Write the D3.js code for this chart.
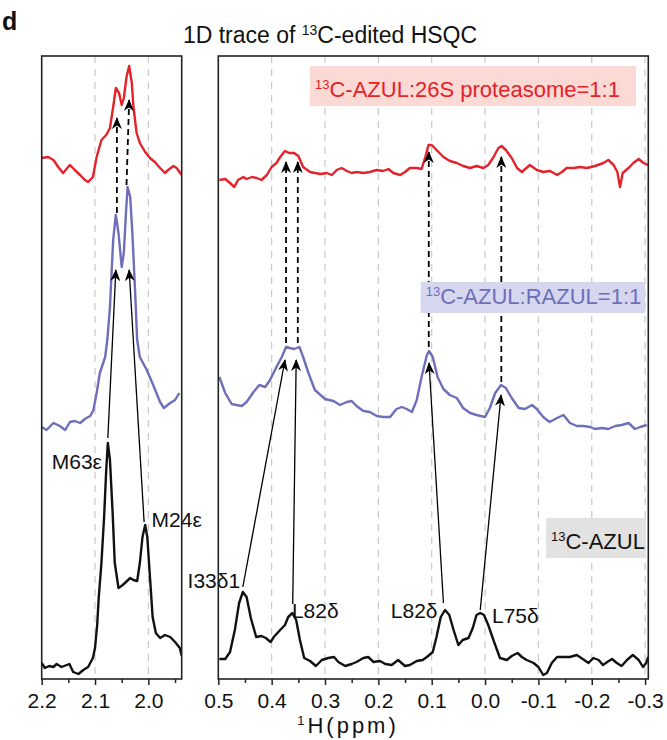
<!DOCTYPE html>
<html>
<head>
<meta charset="utf-8">
<script src="https://cdn.jsdelivr.net/npm/d3@7"></script>
<style>
  body { margin: 0; background: #fff; }
  text { font-family: "Liberation Sans", Arial, Helvetica, sans-serif; }
</style>
</head>
<body>
<div id="chart"></div>
<script>
// spectra as [ppm, intensity (a.u.)], traces are stacked on one intensity axis
const redLeft = [[2.2,521],[2.188,522],[2.178,519],[2.169,512],[2.160,506],[2.147,514],[2.138,509],[2.128,504],[2.119,499],[2.113,497],[2.104,502],[2.097,522],[2.088,539],[2.079,544],[2.072,551],[2.066,572],[2.061,591],[2.055,586],[2.050,574],[2.046,581],[2.041,602],[2.036,613],[2.031,596],[2.028,572],[2.022,546],[2.016,536],[2.006,527],[1.997,521],[1.988,517],[1.978,511],[1.969,506],[1.963,509],[1.953,513],[1.947,511],[1.9375,504]]

const redRight = [[0.498,499],[0.487,500],[0.478,496],[0.470,492],[0.463,499],[0.453,502],[0.447,500],[0.437,502],[0.428,501],[0.419,499],[0.409,504],[0.400,512],[0.391,516],[0.384,522],[0.375,528],[0.367,526],[0.358,526],[0.350,523],[0.341,512],[0.328,507],[0.319,506],[0.308,505],[0.297,506],[0.287,504],[0.278,509],[0.269,511],[0.259,508],[0.250,506],[0.241,507],[0.228,506],[0.216,507],[0.203,509],[0.191,508],[0.181,510],[0.172,506],[0.159,504],[0.150,507],[0.141,511],[0.128,511],[0.119,510],[0.112,522],[0.106,534],[0.100,534],[0.091,529],[0.078,522],[0.066,518],[0.053,516],[0.041,513],[0.028,511],[0.016,513],[0.003,511],[-0.006,514],[-0.016,522],[-0.025,531],[-0.031,533],[-0.039,529],[-0.050,521],[-0.060,511],[-0.069,507],[-0.084,514],[-0.097,509],[-0.109,507],[-0.122,508],[-0.135,504],[-0.144,507],[-0.153,511],[-0.166,511],[-0.178,512],[-0.191,511],[-0.206,513],[-0.222,516],[-0.231,519],[-0.241,514],[-0.248,507],[-0.253,492],[-0.258,506],[-0.269,511],[-0.278,516],[-0.288,520],[-0.297,516],[-0.306,514]]

const blueLeft = [[2.2,252],[2.191,249],[2.178,256],[2.166,253],[2.156,249],[2.147,257],[2.138,258],[2.128,256],[2.119,260],[2.109,263],[2.103,269],[2.097,286],[2.091,306],[2.081,322],[2.077,339],[2.072,372],[2.069,406],[2.066,439],[2.061,464],[2.056,446],[2.050,412],[2.046,426],[2.042,466],[2.039,492],[2.034,482],[2.030,446],[2.025,389],[2.021,339],[2.016,322],[2.003,309],[1.991,294],[1.978,277],[1.971,271],[1.959,276],[1.950,279],[1.942,286]]

const blueRight = [[0.498,302],[0.487,286],[0.475,275],[0.466,274],[0.456,273],[0.447,277],[0.434,287],[0.423,294],[0.412,292],[0.403,299],[0.391,312],[0.381,322],[0.373,332],[0.366,331],[0.358,330],[0.348,332],[0.341,322],[0.331,306],[0.319,289],[0.300,280],[0.284,278],[0.272,274],[0.259,277],[0.250,278],[0.241,273],[0.228,268],[0.216,267],[0.203,263],[0.191,262],[0.178,262],[0.166,270],[0.156,272],[0.147,270],[0.137,267],[0.128,279],[0.119,302],[0.109,324],[0.105,328],[0.098,322],[0.089,302],[0.078,290],[0.066,284],[0.053,281],[0.041,271],[0.028,266],[0.016,264],[0.0,262],[-0.009,271],[-0.019,286],[-0.030,294],[-0.039,291],[-0.050,281],[-0.063,271],[-0.075,270],[-0.088,274],[-0.097,270],[-0.109,262],[-0.121,257],[-0.135,261],[-0.147,264],[-0.159,256],[-0.172,253],[-0.184,253],[-0.197,252],[-0.206,250],[-0.219,251],[-0.231,250],[-0.244,253],[-0.256,254],[-0.269,256],[-0.281,250],[-0.291,252],[-0.303,254]]

const blackLeft = [[2.2,16],[2.194,11],[2.186,13],[2.178,12],[2.172,15],[2.163,12],[2.148,15],[2.141,7],[2.131,5],[2.122,9],[2.113,12],[2.104,21],[2.100,31],[2.096,54],[2.093,82],[2.088,116],[2.083,162],[2.079,209],[2.076,236],[2.072,219],[2.067,166],[2.063,116],[2.056,91],[2.048,94],[2.042,97],[2.034,101],[2.028,99],[2.021,98],[2.016,116],[2.011,142],[2.006,154],[2.002,142],[1.997,102],[1.992,62],[1.986,46],[1.978,41],[1.969,44],[1.959,42],[1.950,37],[1.941,31],[1.9375,23]]

const blackRight = [[0.498,20],[0.487,20],[0.478,27],[0.469,49],[0.461,76],[0.454,87],[0.447,82],[0.439,61],[0.429,42],[0.419,43],[0.411,41],[0.402,37],[0.396,42],[0.384,49],[0.375,54],[0.369,62],[0.361,66],[0.354,59],[0.347,39],[0.339,21],[0.328,18],[0.317,13],[0.306,19],[0.294,21],[0.283,22],[0.275,17],[0.262,13],[0.250,15],[0.241,17],[0.228,21],[0.219,22],[0.209,17],[0.197,18],[0.187,15],[0.175,14],[0.163,19],[0.150,13],[0.141,14],[0.128,18],[0.117,19],[0.109,22],[0.098,27],[0.091,42],[0.083,62],[0.075,69],[0.067,64],[0.059,49],[0.050,34],[0.042,39],[0.031,41],[0.023,51],[0.016,64],[0.009,66],[0.002,64],[-0.006,54],[-0.017,37],[-0.028,21],[-0.041,19],[-0.050,23],[-0.061,26],[-0.069,22],[-0.078,19],[-0.091,16],[-0.100,12],[-0.109,4],[-0.116,6],[-0.125,16],[-0.135,22],[-0.147,22],[-0.159,22],[-0.172,24],[-0.183,20],[-0.194,16],[-0.203,21],[-0.213,19],[-0.221,14],[-0.229,17],[-0.238,20],[-0.247,16],[-0.256,13],[-0.266,19],[-0.277,24],[-0.288,19],[-0.296,12],[-0.302,16],[-0.306,22]]

// arrows: [ppm from, int from, ppm to, int to]
const solidArrowsLeft = [[2.076,241,2.061,409],[2.008,157,2.036,409]]
const dashArrowsLeft = [[2.059,466,2.059,561],[2.041,494,2.036,579]]
const solidArrowsRight = [[0.454,92,0.375,319],[0.3605,75,0.354,319],[0.078,76,0.105,316],[0.009,69,-0.030,284]]
const dashArrowsRight = [[0.373,336,0.373,517],[0.351,336,0.351,517],[0.1055,332,0.1055,527],[-0.0305,297,-0.0305,522]]

// peak labels: [text, ppm, int, anchor]
const labelsLeft = [["M63ε",2.087,210,"end"],["M24ε",1.994,152,"start"]]
const labelsRight = [["I33δ1",0.459,91,"end"],["L82δ",0.362,61,"start"],["L82δ",0.089,61,"end"],["L75δ",-0.013,56,"start"]]

const ticksLeft = [2.2, 2.1, 2.0]
const minorLeft = [2.15, 2.05, 1.95]
const ticksRight = [0.5, 0.4, 0.3, 0.2, 0.1, 0.0, -0.1, -0.2, -0.3]
const minorRight = [0.45, 0.35, 0.25, 0.15, 0.05, -0.05, -0.15, -0.25]

const RED = "#e3222a", BLUE = "#6e6fbb", BLACK = "#111"

const svg = d3.select("#chart").append("svg").attr("width", 667).attr("height", 740)

const yTop = 56, yBot = 679
const y = d3.scaleLinear().domain([0, 623]).range([yBot, yTop])
const xL = d3.scaleLinear().domain([2.2, 1.9375]).range([41.7, 181.7])
const xR = d3.scaleLinear().domain([0.5, -0.306]).range([218.3, 648.3])

const defs = svg.append("defs")
defs.append("marker").attr("id", "head")
  .attr("viewBox", "0 0 12 10").attr("refX", 11).attr("refY", 5)
  .attr("markerWidth", 12).attr("markerHeight", 10)
  .attr("markerUnits", "userSpaceOnUse").attr("orient", "auto")
  .append("path").attr("d", "M0,0 L12,5 L0,10 L3.5,5 Z").attr("fill", "#000")

function panel(id, x, traces, ticks, minor, solid, dashed, labels) {
  const [x0, x1] = x.range()
  defs.append("clipPath").attr("id", id).append("rect")
    .attr("x", x0).attr("y", yTop).attr("width", x1 - x0).attr("height", yBot - yTop)
  const g = svg.append("g")

  // grid
  g.selectAll(".grid").data(ticks.filter(t => x(t) > x0 + 2))
    .enter().append("line")
    .attr("x1", d => x(d)).attr("x2", d => x(d))
    .attr("y1", yTop).attr("y2", yBot)
    .attr("stroke", "#c9c9c9").attr("stroke-width", 1.2).attr("stroke-dasharray", "7,6")

  const line = d3.line().x(d => x(d[0])).y(d => y(d[1]))
  const plot = g.append("g").attr("clip-path", `url(#${id})`)
  traces.forEach(t => {
    plot.append("path").datum(t.data).attr("d", line)
      .attr("fill", "none").attr("stroke", t.color).attr("stroke-width", 2.4)
      .attr("stroke-linejoin", "round")
  })

  g.selectAll(".sa").data(solid).enter().append("line")
    .attr("x1", d => x(d[0])).attr("y1", d => y(d[1]))
    .attr("x2", d => x(d[2])).attr("y2", d => y(d[3]))
    .attr("stroke", "#000").attr("stroke-width", 1.3).attr("marker-end", "url(#head)")
  g.selectAll(".da").data(dashed).enter().append("line")
    .attr("x1", d => x(d[0])).attr("y1", d => y(d[1]))
    .attr("x2", d => x(d[2])).attr("y2", d => y(d[3]))
    .attr("stroke", "#000").attr("stroke-width", 1.8).attr("stroke-dasharray", "6,4")
    .attr("marker-end", "url(#head)")

  g.selectAll(".lab").data(labels).enter().append("text")
    .attr("x", d => x(d[1])).attr("y", d => y(d[2]))
    .attr("text-anchor", d => d[3])
    .attr("font-size", 21).attr("fill", "#111")
    .text(d => d[0])

  // frame
  g.append("rect").attr("x", x0).attr("y", yTop).attr("width", x1 - x0).attr("height", yBot - yTop)
    .attr("fill", "none").attr("stroke", "#222").attr("stroke-width", 1.6)

  const ax = g.append("g").attr("transform", `translate(0,${yBot})`)
    .call(d3.axisBottom(x).tickValues(ticks).tickSize(6).tickPadding(8).tickFormat(d => d.toFixed(1)))
  ax.select(".domain").remove()
  ax.selectAll("line").attr("stroke", "#222").attr("stroke-width", 1.5)
  ax.selectAll("text").attr("font-size", 21).attr("fill", "#111")
    .style("font-family", '"Liberation Sans", Arial, sans-serif')
  const mx = g.append("g").attr("transform", `translate(0,${yBot})`)
    .call(d3.axisBottom(x).tickValues(minor).tickSize(4).tickFormat(""))
  mx.select(".domain").remove()
  mx.selectAll("line").attr("stroke", "#222").attr("stroke-width", 1.5)
}

panel("clipL", xL, [
  { data: redLeft, color: RED },
  { data: blueLeft, color: BLUE },
  { data: blackLeft, color: BLACK }
], ticksLeft, minorLeft, solidArrowsLeft, dashArrowsLeft, labelsLeft)

panel("clipR", xR, [
  { data: redRight, color: RED },
  { data: blueRight, color: BLUE },
  { data: blackRight, color: BLACK }
], ticksRight, minorRight, solidArrowsRight, dashArrowsRight, labelsRight)

// legend boxes
function tag(x, yb, w, h, fill, color, rest) {
  svg.append("rect").attr("x", x).attr("y", yb).attr("width", w).attr("height", h).attr("fill", fill)
  const t = svg.append("text").attr("x", x + 5).attr("y", yb + h - 9).attr("font-size", 22).attr("fill", color)
  t.append("tspan").attr("font-size", 13).attr("dy", -8).text("13")
  t.append("tspan").attr("dy", 8).text(rest)
}
tag(310, 66, 326, 40, "#fbd9d5", RED, "C-AZUL:26S proteasome=1:1")
tag(420.7, 282, 224.5, 31, "#d6d6ef", BLUE, "C-AZUL:RAZUL=1:1")
tag(546, 518, 100, 40, "#e2e2e2", "#111", "C-AZUL")

// titles
const title = svg.append("text").attr("x", 330).attr("y", 43).attr("text-anchor", "middle")
  .attr("font-size", 23).attr("fill", "#111")
title.append("tspan").text("1D trace of ")
title.append("tspan").attr("font-size", 14).attr("dy", -8).text("13")
title.append("tspan").attr("dy", 8).text("C-edited HSQC")

svg.append("text").attr("x", 2).attr("y", 30).attr("font-size", 25).attr("font-weight", "bold")
  .attr("fill", "#111").text("d")

const xt = svg.append("text").attr("x", 348).attr("y", 733).attr("text-anchor", "middle")
  .attr("font-size", 22).attr("fill", "#111").attr("letter-spacing", 3)
xt.append("tspan").attr("font-size", 13).attr("dy", -8).text("1")
xt.append("tspan").attr("dy", 8).text("H(ppm)")
</script>
</body>
</html>
